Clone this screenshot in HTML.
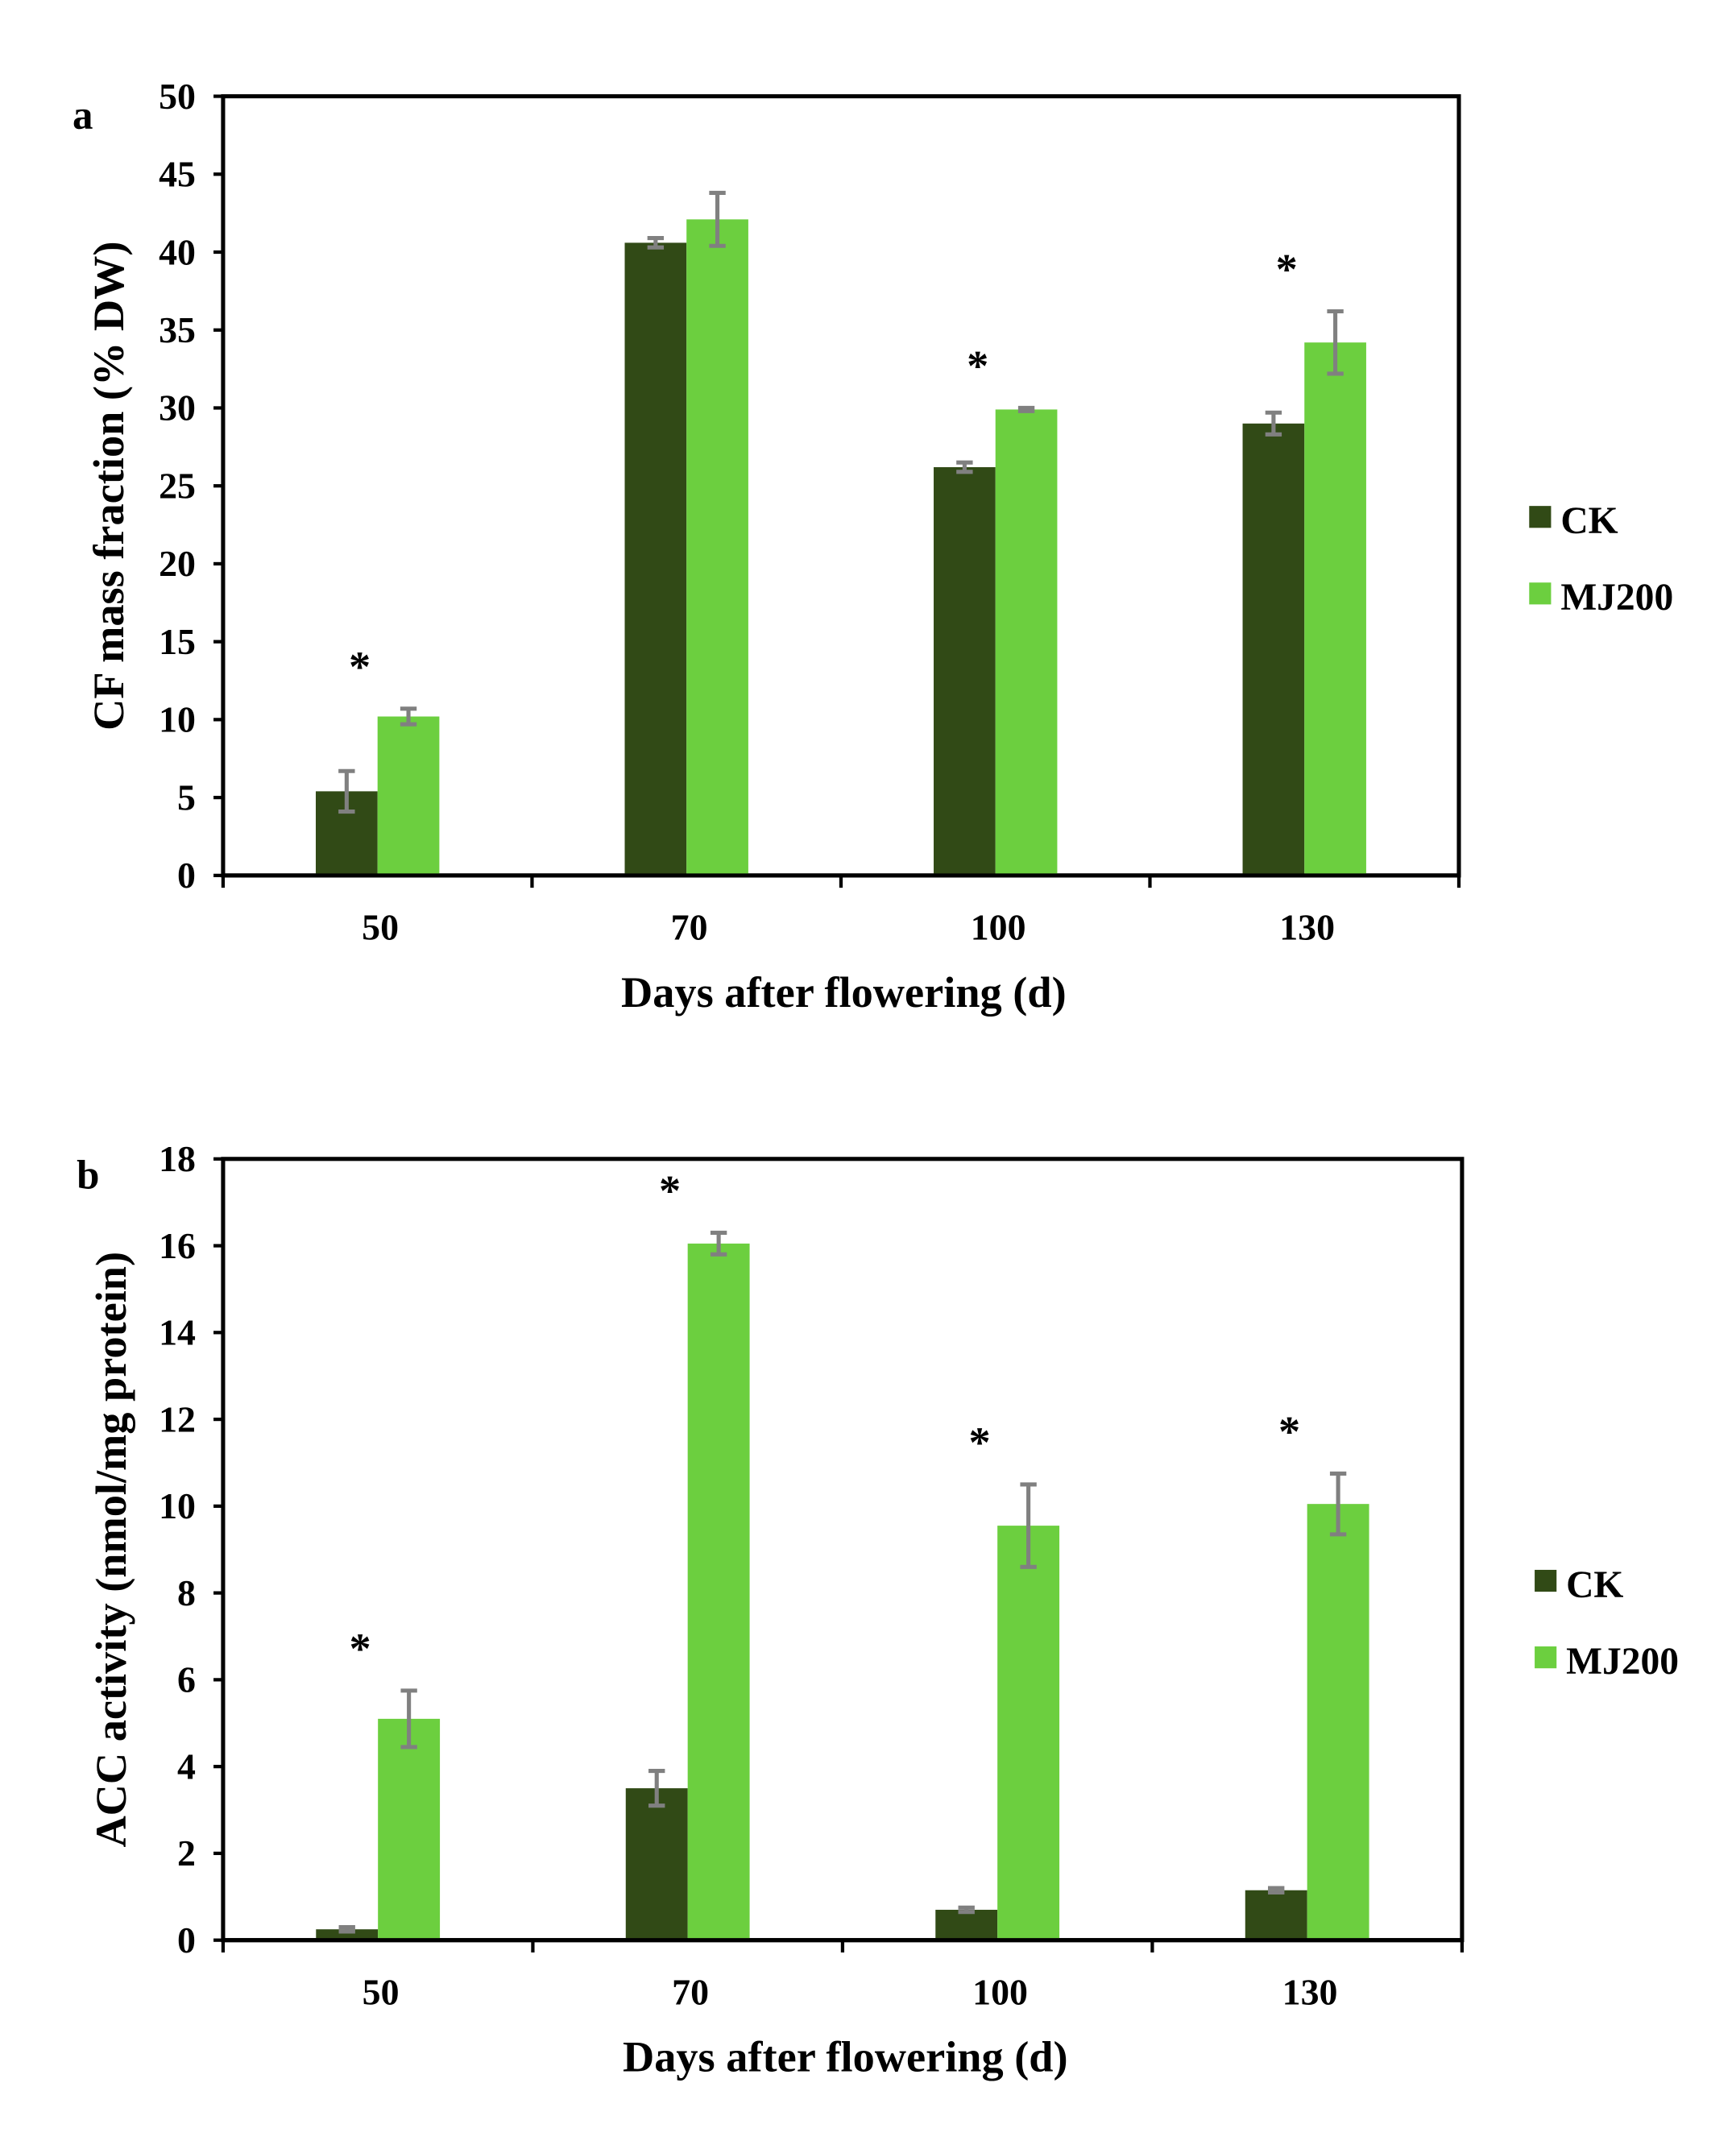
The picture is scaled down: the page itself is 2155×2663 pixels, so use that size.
<!DOCTYPE html>
<html><head><meta charset="utf-8"><style>
html,body{margin:0;padding:0;background:#fff}
svg{display:block}
text{font-family:"Liberation Serif",serif;font-weight:bold;fill:#000}
</style></head><body>
<svg id="chart" width="2155" height="2663" viewBox="0 0 1269.2 1568.6" preserveAspectRatio="none" xmlns="http://www.w3.org/2000/svg"></svg>
<script>
const categories = ["50","70","100","130"];
const seriesNames = ["CK","MJ200"];
const aCK = [5.4, 40.6, 26.2, 29.0];
const aCKerr = [1.3, 0.3, 0.3, 0.7];
const aMJ = [10.2, 42.1, 29.9, 34.2];
const aMJerr = [0.5, 1.7, 0.1, 2.0];
const aSig = [true, false, true, true];
const aTicks = [0,5,10,15,20,25,30,35,40,45,50];
const bCK = [0.25, 3.5, 0.7, 1.15];
const bCKerr = [0.05, 0.4, 0.05, 0.05];
const bMJ = [5.1, 16.05, 9.55, 10.05];
const bMJerr = [0.65, 0.25, 0.95, 0.7];
const bSig = [true, true, true, true];
const bTicks = [0,2,4,6,8,10,12,14,16,18];

const svg = document.getElementById('chart');
const NS = "http://www.w3.org/2000/svg";
function mk(tag, attrs, parent, txt){
  const e = document.createElementNS(NS, tag);
  for (const k in attrs) e.setAttribute(k, attrs[k]);
  if (txt !== undefined) e.textContent = txt;
  (parent || svg).appendChild(e);
  return e;
}
const colors = ["#314a16", "#6ccf3f"];

function panel(cfg){
  const g = mk('g', {});
  
  
  const {x0, x1, y0, y1, max} = cfg;
  const ys = v => y0 - (v / max) * (y0 - y1);
  const step = (x1 - x0) / categories.length;
  const bw = step * 0.2;
  const frame = mk('rect', {x:x0, y:y1, width:x1-x0, height:y0-y1, fill:'none', stroke:'#000', 'stroke-width':3}, g);
  
  
  cfg.ticks.forEach(t => {
    const y = ys(t);
    mk('line', {x1:x0-7, x2:x0, y1:y, y2:y, stroke:'#000', 'stroke-width':2.5}, g);
    const tl = mk('text', {x:x0-20, y:y+9, 'text-anchor':'end', 'font-size':27}, g, String(t));
    
    
  });
  for (let i = 0; i <= categories.length; i++){
    const x = x0 + i * step;
    mk('line', {x1:x, x2:x, y1:y0, y2:y0+9, stroke:'#000', 'stroke-width':2.5}, g);
  }
  const series = [[cfg.ck, cfg.ckErr], [cfg.mj, cfg.mjErr]];
  categories.forEach((c, i) => {
    const cx = x0 + step * (i + 0.5);
    series.forEach((s, si) => {
      const v = s[0][i], e = s[1][i];
      const bx = cx - bw + si * bw;
      const r = mk('rect', {x:bx, y:ys(v), width:bw, height:y0 - ys(v), fill:colors[si]}, g);
      
      
      const ex = bx + bw / 2;
      const eb = mk('path', {d:`M${ex},${ys(v+e)}V${ys(v-e)}M${ex-6},${ys(v+e)}H${ex+6}M${ex-6},${ys(v-e)}H${ex+6}`, stroke:'#808080', 'stroke-width':3, fill:'none'}, g);
      
      
    });
    const xl = mk('text', {x:cx + 2, y:y0 + 47, 'text-anchor':'middle', 'font-size':27}, g, c);
    
    
    if (cfg.sig[i]){
      const top = Math.max(cfg.ck[i] + cfg.ckErr[i], cfg.mj[i] + cfg.mjErr[i]);
      const st = mk('text', {x:cx - 13, y:ys(top) - 20, 'text-anchor':'middle', 'font-size':32}, g, '*');
      
      
    }
  });
  mk('line', {x1:x0, x2:x1, y1:y0, y2:y0, stroke:'#000', 'stroke-width':3}, g);
  const xt = mk('text', {x:(x0+x1)/2 + 2, y:y0 + 96, 'text-anchor':'middle', 'font-size':32}, g, 'Days after flowering (d)');
  
  
  const ycx = cfg.yTitleX, ycy = (y0 + y1) / 2;
  const yt = mk('text', {x:ycx, y:ycy, 'text-anchor':'middle', 'font-size':32, transform:`rotate(-90 ${ycx} ${ycy})`}, g, cfg.yTitle);
  
  
  const lt = mk('text', {x:cfg.letterX, y:cfg.letterY, 'font-size':30}, g, cfg.letter);
  
  
  seriesNames.forEach((n, si) => {
    const ly = cfg.legY + si * 56;
    const sq = mk('rect', {x:cfg.legX, y:ly - 10, width:16, height:16, fill:colors[si]}, g);
    
    
    const tx = mk('text', {x:cfg.legX + 23, y:ly + 10, 'font-size':28}, g, n);
    
    
  });
}
panel({letter:'a', letterX:53, letterY:94, x0:163.1, x1:1066.6, y0:640.2, y1:70.4, max:50, ticks:aTicks,
  ck:aCK, ckErr:aCKerr, mj:aMJ, mjErr:aMJerr, sig:aSig, yTitle:'CF mass fraction (% DW)', yTitleX:90, legX:1118, legY:380});
panel({letter:'b', letterX:56, letterY:869, x0:163.1, x1:1068.9, y0:1418.8, y1:847.5, max:18, ticks:bTicks,
  ck:bCK, ckErr:bCKerr, mj:bMJ, mjErr:bMJerr, sig:bSig, yTitle:'ACC activity (nmol/mg protein)', yTitleX:92, legX:1122, legY:1158});
</script>
</body></html>
